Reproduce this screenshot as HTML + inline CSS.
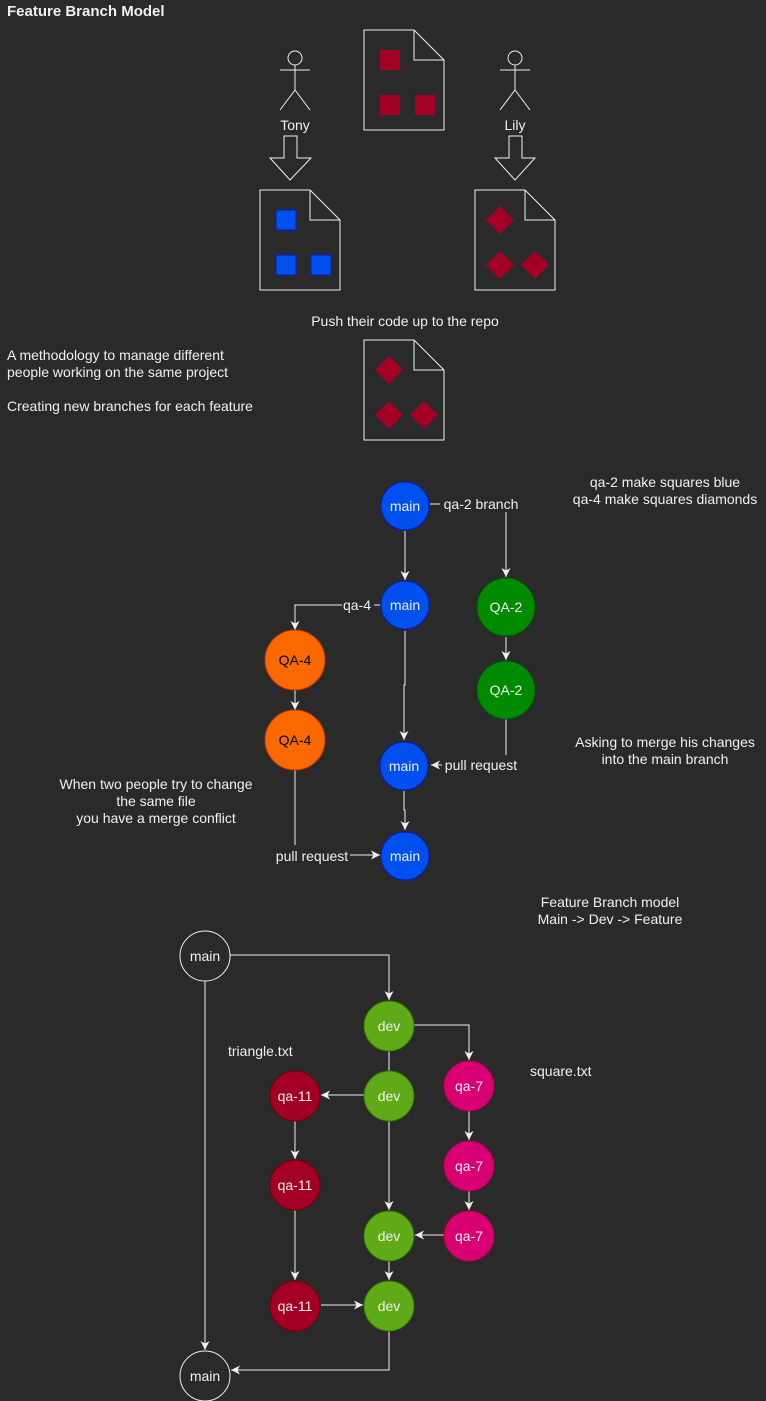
<!DOCTYPE html>
<html><head><style>
html,body{margin:0;padding:0;background:#2a2a2a;}
svg{display:block;}
text{font-family:"Liberation Sans",Arial,sans-serif;font-size:14px;fill:#f0f0f0;}
</style></head><body>
<svg width="766" height="1401" viewBox="0 0 766 1401" xmlns="http://www.w3.org/2000/svg">
<defs>
<marker id="a" markerWidth="12" markerHeight="12" refX="10" refY="6" orient="auto" markerUnits="userSpaceOnUse">
<path d="M1,1.5 L10,6 L1,10.5 L3.5,6 Z" fill="#f0f0f0"/>
</marker>
</defs>
<rect width="766" height="1401" fill="#2a2a2a"/>
<text x="7" y="16" style="font-weight:bold;font-size:15px">Feature Branch Model</text>

<g stroke="#f0f0f0" fill="none" stroke-width="1">
<circle cx="295" cy="58" r="7"/><path d="M295,65 V90 M280,70 H310 M295,90 L280,110 M295,90 L310,110"/>
<circle cx="515" cy="58" r="7"/><path d="M515,65 V90 M500,70 H530 M515,90 L500,110 M515,90 L530,110"/>
<path d="M284,136 H297 V158 H311 L290,180 L270,158 H284 Z"/>
<path d="M509,136 H522 V158 H535 L515,180 L495,158 H509 Z"/>
<path d="M364,30 H414 L444,60 V130 H364 Z M414,30 V60 H444"/>
<path d="M260,190 H310 L340,220 V290 H260 Z M310,190 V220 H340"/>
<path d="M475,190 H525 L555,220 V290 H475 Z M525,190 V220 H555"/>
<path d="M364,340 H414 L444,370 V440 H364 Z M414,340 V370 H444"/>
</g>
<text x="295" y="130" text-anchor="middle">Tony</text>
<text x="515" y="130" text-anchor="middle">Lily</text>
<g fill="#a20025">
<rect x="380" y="50" width="20" height="20"/><rect x="380" y="95" width="20" height="20"/><rect x="415" y="95" width="20" height="20"/>
<path d="M500,206 L514,220 L500,234 L486,220 Z M500,251 L514,265 L500,279 L486,265 Z M535,251 L549,265 L535,279 L521,265 Z"/>
<path d="M389,356 L403,370 L389,384 L375,370 Z M389,401 L403,415 L389,429 L375,415 Z M424,401 L438,415 L424,429 L410,415 Z"/>
</g>
<g fill="#0050ef" stroke="#001dbc">
<rect x="276" y="210" width="20" height="20"/><rect x="276" y="255" width="20" height="20"/><rect x="311" y="255" width="20" height="20"/>
</g>
<text x="405" y="326" text-anchor="middle">Push their code up to the repo</text>
<text x="7" y="360">A methodology to manage different</text>
<text x="7" y="377">people working on the same project</text>
<text x="7" y="411">Creating new branches for each feature</text>

<g stroke="#f0f0f0" fill="none" stroke-width="1">
<path d="M405,531 V580" marker-end="url(#a)"/>
<path d="M430,504 H440"/><path d="M506,512 V577" marker-end="url(#a)"/>
<path d="M506,637 V660" marker-end="url(#a)"/>
<path d="M380,605 H374"/><path d="M342,605 H295 V630" marker-end="url(#a)"/>
<path d="M295,690 V710" marker-end="url(#a)"/>
<path d="M405,631 V685 H404 V740" marker-end="url(#a)"/>
<path d="M506,719 V755"/><path d="M442,765 H431" marker-end="url(#a)"/>
<path d="M404,791 V810 H405 V830" marker-end="url(#a)"/>
<path d="M295,770 V845"/><path d="M350,855 H380" marker-end="url(#a)"/>
</g>
<g stroke-width="1">
<circle cx="405" cy="506" r="24" fill="#0050ef" stroke="#001dbc"/>
<circle cx="405" cy="605" r="24" fill="#0050ef" stroke="#001dbc"/>
<circle cx="404" cy="766" r="24" fill="#0050ef" stroke="#001dbc"/>
<circle cx="405" cy="856" r="24" fill="#0050ef" stroke="#001dbc"/>
<circle cx="506" cy="607" r="29" fill="#008a00" stroke="#005700"/>
<circle cx="506" cy="690" r="29" fill="#008a00" stroke="#005700"/>
<circle cx="295" cy="660" r="30" fill="#fa6800" stroke="#c73500"/>
<circle cx="295" cy="740" r="30" fill="#fa6800" stroke="#c73500"/>
</g>
<g text-anchor="middle">
<text x="405" y="511">main</text><text x="405" y="610">main</text><text x="404" y="771">main</text><text x="405" y="861">main</text>
<text x="506" y="612">QA-2</text><text x="506" y="695">QA-2</text>
<text x="295" y="665" style="fill:#000">QA-4</text><text x="295" y="745" style="fill:#000">QA-4</text>
</g>
<text x="481" y="509" text-anchor="middle">qa-2 branch</text>
<text x="357" y="610" text-anchor="middle">qa-4</text>
<text x="481" y="770" text-anchor="middle">pull request</text>
<text x="312" y="861" text-anchor="middle">pull request</text>
<text x="665" y="487" text-anchor="middle">qa-2 make squares blue</text>
<text x="665" y="504" text-anchor="middle">qa-4 make squares diamonds</text>
<text x="665" y="747" text-anchor="middle">Asking to merge his changes</text>
<text x="665" y="764" text-anchor="middle">into the main branch</text>
<text x="156" y="789" text-anchor="middle">When two people try to change</text>
<text x="156" y="806" text-anchor="middle">the same file</text>
<text x="156" y="823" text-anchor="middle">you have a merge conflict</text>
<text x="610" y="907" text-anchor="middle">Feature Branch model</text>
<text x="610" y="924" text-anchor="middle">Main -&gt; Dev -&gt; Feature</text>

<g stroke="#f0f0f0" fill="none" stroke-width="1">
<path d="M230,955 H389 V1000" marker-end="url(#a)"/>
<path d="M414,1025 H469 V1060" marker-end="url(#a)"/>
<path d="M389,1051 V1071"/>
<path d="M364,1095 H321" marker-end="url(#a)"/>
<path d="M389,1121 V1210" marker-end="url(#a)"/>
<path d="M469,1111 V1140" marker-end="url(#a)"/>
<path d="M469,1191 V1210" marker-end="url(#a)"/>
<path d="M444,1235 H415" marker-end="url(#a)"/>
<path d="M389,1261 V1280" marker-end="url(#a)"/>
<path d="M295,1121 V1159" marker-end="url(#a)"/>
<path d="M295,1210 V1280" marker-end="url(#a)"/>
<path d="M321,1305 H363" marker-end="url(#a)"/>
<path d="M205,981 V1350" marker-end="url(#a)"/>
<path d="M389,1331 V1370 H231" marker-end="url(#a)"/>
</g>
<g stroke-width="1">
<circle cx="205" cy="956" r="25" fill="none" stroke="#f0f0f0"/>
<circle cx="205" cy="1376" r="25" fill="none" stroke="#f0f0f0"/>
<circle cx="389" cy="1026" r="25" fill="#60a917" stroke="#2d7600"/>
<circle cx="389" cy="1096" r="25" fill="#60a917" stroke="#2d7600"/>
<circle cx="389" cy="1236" r="25" fill="#60a917" stroke="#2d7600"/>
<circle cx="389" cy="1306" r="25" fill="#60a917" stroke="#2d7600"/>
<circle cx="469" cy="1086" r="25" fill="#d80073" stroke="#a50040"/>
<circle cx="469" cy="1166" r="25" fill="#d80073" stroke="#a50040"/>
<circle cx="469" cy="1236" r="25" fill="#d80073" stroke="#a50040"/>
<circle cx="295" cy="1096" r="25" fill="#a20025" stroke="#6f0000"/>
<circle cx="295" cy="1185" r="25" fill="#a20025" stroke="#6f0000"/>
<circle cx="295" cy="1306" r="25" fill="#a20025" stroke="#6f0000"/>
</g>
<g text-anchor="middle">
<text x="205" y="961">main</text><text x="205" y="1381">main</text>
<text x="389" y="1031">dev</text><text x="389" y="1101">dev</text><text x="389" y="1241">dev</text><text x="389" y="1311">dev</text>
<text x="469" y="1091">qa-7</text><text x="469" y="1171">qa-7</text><text x="469" y="1241">qa-7</text>
<text x="295" y="1101">qa-11</text><text x="295" y="1190">qa-11</text><text x="295" y="1311">qa-11</text>
</g>
<text x="228" y="1056">triangle.txt</text>
<text x="530" y="1076">square.txt</text>
</svg>
</body></html>
